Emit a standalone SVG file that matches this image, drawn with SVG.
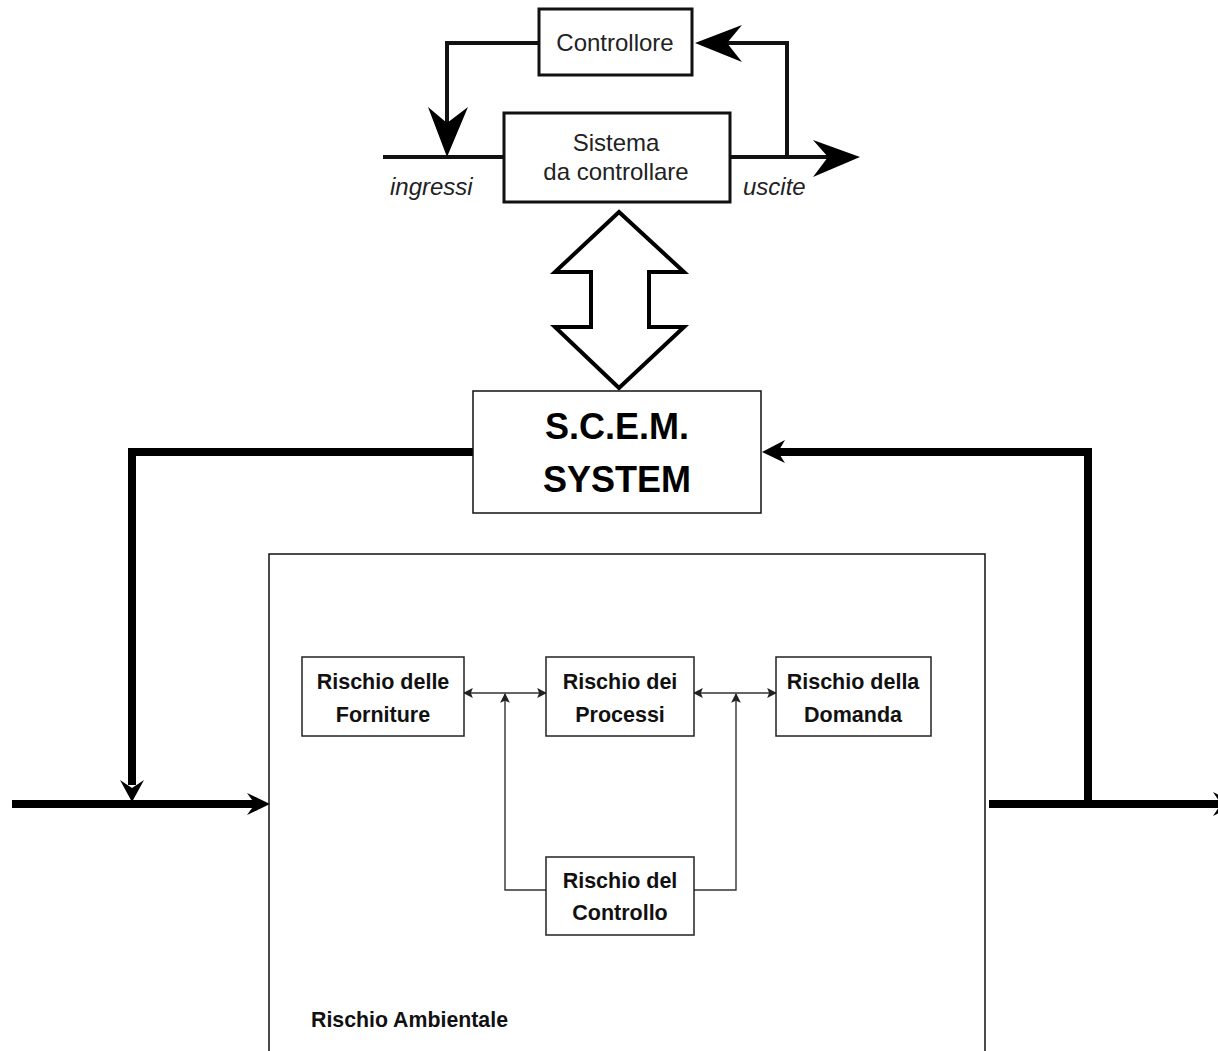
<svg xmlns="http://www.w3.org/2000/svg" width="1218" height="1051" viewBox="0 0 1218 1051">
<defs>
<style>
.tb{fill:#fff;stroke:#111;stroke-width:3}
.tt{font-family:"Liberation Sans",Arial,sans-serif;font-size:24px;fill:#222;text-anchor:middle}
.ti{font-family:"Liberation Sans",Arial,sans-serif;font-size:24px;fill:#222;font-style:italic}
.tl{fill:none;stroke:#111;stroke-width:4}
.bl{fill:none;stroke:#000;stroke-width:8}
.head{fill:#000;stroke:none}
.ib{fill:#fff;stroke:#222;stroke-width:1.5}
.it{font-family:"Liberation Sans",Arial,sans-serif;font-size:21.5px;font-weight:bold;fill:#111;text-anchor:middle}
.il{fill:none;stroke:#333;stroke-width:1.4}
</style>
<marker id="sa" viewBox="0 0 10 10" refX="9" refY="5" markerWidth="7" markerHeight="7" orient="auto-start-reverse" markerUnits="strokeWidth">
<path d="M0,0 L10,5 L0,10 L2,5 Z" fill="#222"/>
</marker>
</defs>
<rect width="1218" height="1051" fill="#fff"/>

<g id="connectors">
<path class="tl" d="M383,157 H504"/>
<path class="tl" d="M731,157 H830"/>
<polygon class="head" points="860,157 813,140 828,157 813,177"/>
<path class="tl" d="M539,43 H447 V125"/>
<polygon class="head" points="447,157 428,107 447,123 468,107"/>
<path class="tl" d="M787,157 V43 H725"/>
<polygon class="head" points="695,43 742,25 727,43 742,62"/>
<polygon fill="#fff" stroke="#000" stroke-width="4" stroke-linejoin="miter" points="619,212 684,272 649,272 649,327 684,327 619,388 555,327 591,327 591,272 555,272"/>
<path class="bl" d="M473,452 H132 V785"/>
<polygon class="head" points="132,802 120,780 132,788 144,780"/>
<path class="bl" d="M1088,804 V452 H775"/>
<polygon class="head" points="762,452 785,440 778,452 785,463"/>
<path class="bl" d="M12,804 H255"/>
<polygon class="head" points="270,804 247,793 255,804 247,815"/>
<path class="bl" d="M989,804 H1225"/>
<polygon class="head" points="1236,804 1213,792 1221,804 1213,816"/>
<path class="il" d="M464,693 H546" marker-start="url(#sa)" marker-end="url(#sa)"/>
<path class="il" d="M694,693 H776" marker-start="url(#sa)" marker-end="url(#sa)"/>
<path class="il" d="M546,890 H505 V694" marker-end="url(#sa)"/>
<path class="il" d="M694,890 H736 V694" marker-end="url(#sa)"/>
</g>

<g id="controllore">
<rect class="tb" x="539" y="9" width="153" height="66"/>
<text class="tt" x="615" y="51">Controllore</text>
</g>
<g id="sistema">
<rect class="tb" x="504" y="113" width="226" height="89"/>
<text class="tt" x="616" y="151">Sistema</text>
<text class="tt" x="616" y="180">da controllare</text>
</g>
<g id="labels-top">
<text class="ti" x="390" y="195">ingressi</text>
<text class="ti" x="743" y="195">uscite</text>
</g>

<g id="scem">
<rect x="473" y="391" width="288" height="122" fill="#fff" stroke="#111" stroke-width="1.5"/>
<text x="617" y="439" font-family="'Liberation Sans',Arial,sans-serif" font-size="36" font-weight="bold" text-anchor="middle" fill="#000">S.C.E.M.</text>
<text x="617" y="492" font-family="'Liberation Sans',Arial,sans-serif" font-size="36" font-weight="bold" text-anchor="middle" fill="#000">SYSTEM</text>
</g>

<g id="ambientale">
<path d="M269,1060 V554 H985 V1060" fill="none" stroke="#111" stroke-width="1.5"/>
<text x="311" y="1027" font-family="'Liberation Sans',Arial,sans-serif" font-size="21.5" font-weight="bold" fill="#111" textLength="197" lengthAdjust="spacingAndGlyphs">Rischio Ambientale</text>
</g>

<g id="forniture">
<rect class="ib" x="302" y="657" width="162" height="79"/>
<text class="it" x="383" y="689">Rischio delle</text>
<text class="it" x="383" y="722">Forniture</text>
</g>
<g id="processi">
<rect class="ib" x="546" y="657" width="148" height="79"/>
<text class="it" x="620" y="689">Rischio dei</text>
<text class="it" x="620" y="722">Processi</text>
</g>
<g id="domanda">
<rect class="ib" x="776" y="657" width="155" height="79"/>
<text class="it" x="853" y="689">Rischio della</text>
<text class="it" x="853" y="722">Domanda</text>
</g>
<g id="controllo">
<rect class="ib" x="546" y="857" width="148" height="78"/>
<text class="it" x="620" y="888">Rischio del</text>
<text class="it" x="620" y="920">Controllo</text>
</g>
</svg>
